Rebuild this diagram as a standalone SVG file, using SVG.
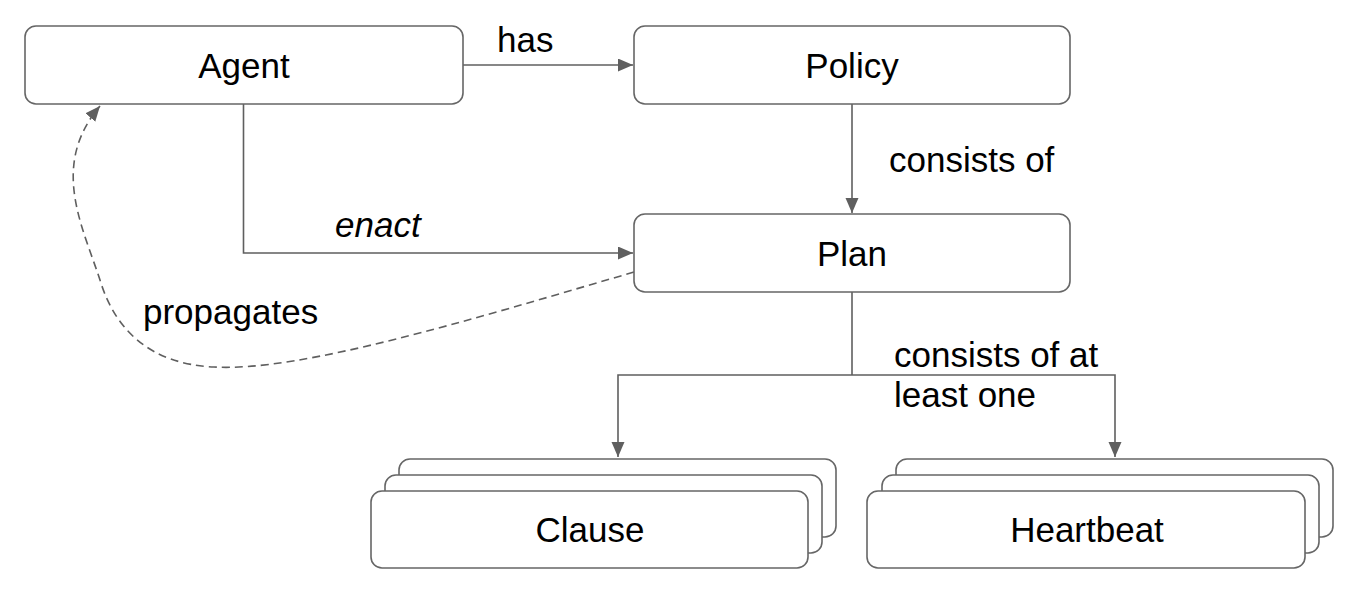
<svg xmlns="http://www.w3.org/2000/svg" width="1356" height="606" viewBox="0 0 1356 606">
  <defs>
    <style>
      .box { fill: #ffffff; stroke: #666666; stroke-width: 1.6; }
      .lbl { font-family: "Liberation Sans", Arial, sans-serif; font-size: 35px; fill: #000000; }
      .ctr { text-anchor: middle; }
      .edge { fill: none; stroke: #5f5f5f; stroke-width: 1.6; }
      .dash { stroke-dasharray: 8 5; }
    </style>
    <marker id="arrow" markerUnits="userSpaceOnUse" markerWidth="16" markerHeight="14" refX="15" refY="6.5" orient="auto">
      <path d="M0,0 L15,6.5 L0,13 Z" fill="#5f5f5f"/>
    </marker>
  </defs>
  <rect width="1356" height="606" fill="#ffffff"/>

  <g id="connectors">
    <path id="e-has" class="edge" d="M463,65 L633,65" marker-end="url(#arrow)"/>
    <path id="e-consists" class="edge" d="M852,104 L852,213" marker-end="url(#arrow)"/>
    <path id="e-enact" class="edge" d="M243.5,104 L243.5,253 L633,253" marker-end="url(#arrow)"/>
    <path id="e-propagates" class="edge dash" d="M634,272 C470,320 300,372 214,367 C150,364 115,330 100,280 C82,225 50,165 100,106" marker-end="url(#arrow)"/>
    <path id="e-plan-trunk" class="edge" d="M852,292 L852,375"/>
    <path id="e-clause" class="edge" d="M852,375 L618,375 L618,457" marker-end="url(#arrow)"/>
    <path id="e-heartbeat" class="edge" d="M852,375 L1115,375 L1115,457" marker-end="url(#arrow)"/>
    <text class="lbl" x="497" y="52">has</text>
    <text class="lbl" x="889" y="172">consists of</text>
    <text class="lbl" x="335" y="237" font-style="italic">enact</text>
    <text class="lbl" x="143" y="324">propagates</text>
    <text class="lbl" x="894" y="367">consists of at</text>
    <text class="lbl" x="894" y="407">least one</text>
  </g>

  <g id="agent">
    <rect class="box" x="25" y="26" width="438" height="78" rx="11"/>
    <text class="lbl ctr" x="244" y="78">Agent</text>
  </g>

  <g id="policy">
    <rect class="box" x="634" y="26" width="436" height="78" rx="11"/>
    <text class="lbl ctr" x="852" y="78">Policy</text>
  </g>

  <g id="plan">
    <rect class="box" x="634" y="214" width="436" height="78" rx="11"/>
    <text class="lbl ctr" x="852" y="266">Plan</text>
  </g>

  <g id="clause">
    <rect class="box" x="399" y="459" width="437" height="78" rx="11"/>
    <rect class="box" x="385" y="475" width="437" height="78" rx="11"/>
    <rect class="box" x="371" y="491" width="437" height="77" rx="11"/>
    <text class="lbl ctr" x="590" y="542">Clause</text>
  </g>

  <g id="heartbeat">
    <rect class="box" x="896" y="459" width="437" height="78" rx="11"/>
    <rect class="box" x="882" y="475" width="437" height="78" rx="11"/>
    <rect class="box" x="867" y="491" width="438" height="77" rx="11"/>
    <text class="lbl ctr" x="1087" y="542">Heartbeat</text>
  </g>
</svg>
